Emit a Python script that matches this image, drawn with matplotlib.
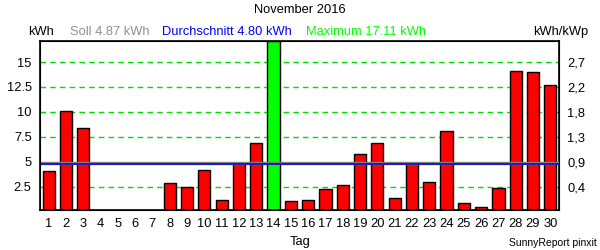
import numpy as np
import matplotlib.pyplot as plt

plt.rcParams['font.family'] = ['Liberation Sans', 'DejaVu Sans']

days = list(range(1, 31))
kwh = [4.1, 10.1, 8.4, 0, 0, 0, 0, 2.9, 2.5, 4.2,
       1.2, 4.9, 6.9, 17.11, 1.1, 1.2, 2.3, 2.7, 5.8, 6.9,
       1.4, 4.9, 3.0, 8.1, 0.9, 0.5, 2.4, 14.1, 14.0, 12.7]
soll = 4.87
avg = 4.80
maximum = 17.11
left_ticks = [2.5, 5, 7.5, 10, 12.5, 15]
left_labels = ["2.5", "5", "7.5", "10", "12.5", "15"]
right_labels = ["0,4", "0,9", "1,3", "1,8", "2,2", "2,7"]
fs = 9.3

fig = plt.figure(figsize=(6, 2.5), dpi=100)
ax = fig.add_axes([40 / 600, 1 - 209.5 / 250, 519 / 600, 168.5 / 250])

colors = ["#00ff00" if v == maximum else "#ff0000" for v in kwh]
ax.bar(days, kwh, width=0.7, color=colors, edgecolor="black", linewidth=1, zorder=2)
ax.axhline(soll, color="#808080", linewidth=2.4, zorder=3)
ax.axhline(avg, color="#0000cc", linewidth=1.1, zorder=4)
for t in left_ticks:
    if t != 5:
        ax.axhline(t, color="#00dd00", linestyle=(0, (4, 3)), linewidth=1, zorder=1)

ax.set_xlim(0.5, 30.5)
ax.set_ylim(0.2, 17.11)
ax.set_xticks(days)
ax.set_xticklabels([str(d) for d in days], fontsize=fs)
ax.set_yticks(left_ticks)
ax.set_yticklabels(left_labels, fontsize=fs)
ax.tick_params(length=0, pad=6)
for s in ax.spines.values():
    s.set_linewidth(1.2)

ax2 = ax.twinx()
ax2.set_ylim(ax.get_ylim())
ax2.set_yticks(left_ticks)
ax2.set_yticklabels(right_labels, fontsize=fs)
ax2.tick_params(length=0, pad=6)

fig.text(0.5, 0.96, "November 2016", ha="center", va="center", fontsize=fs)
hy = 1 - 32 / 250
fig.text(28 / 600, hy, "kWh", ha="left", va="center", fontsize=fs)
fig.text(70 / 600, hy, "Soll 4.87 kWh", ha="left", va="center", fontsize=fs, color="#909090")
fig.text(162 / 600, hy, "Durchschnitt 4.80 kWh", ha="left", va="center", fontsize=fs, color="#0000ff")
fig.text(306 / 600, hy, "Maximum 17.11 kWh", ha="left", va="center", fontsize=fs, color="#00ff00")
fig.text(588 / 600, hy, "kWh/kWp", ha="right", va="center", fontsize=fs)
fig.text(0.5, 1 - 242 / 250, "Tag", ha="center", va="center", fontsize=fs)
fig.text(597 / 600, 1 - 243 / 250, "SunnyReport pinxit", ha="right", va="center", fontsize=7.5)

fig.savefig("out.png", dpi=100)
